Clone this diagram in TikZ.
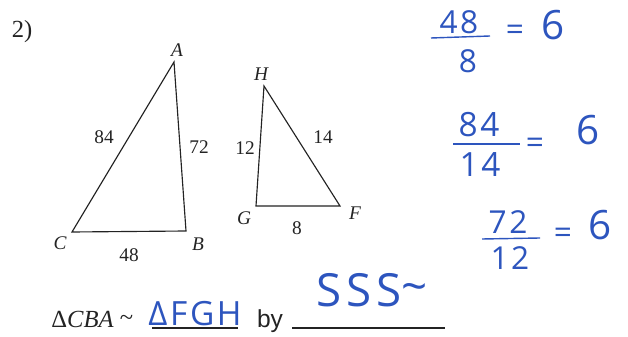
\documentclass[tikz,border=0pt]{standalone}
\usepackage{fontspec}
\setmainfont{Liberation Serif}
\setsansfont{Liberation Sans}
\newfontfamily\handfont{Open Sans}[LetterSpace=8]
\usetikzlibrary{positioning, calc}
\usepackage{xcolor}
\definecolor{ink}{RGB}{35,35,35}
\definecolor{pen}{RGB}{45,85,190}
\tikzset{
  SD/.style={draw=ink,line width=0.65pt},
  VX/.style={font=\fontsize{11}{12}\selectfont\itshape,text=ink,inner sep=1pt},
  LN/.style={font=\fontsize{11}{12}\selectfont,text=ink,inner sep=1pt},
  HW/.style={font=\handfont\fontsize{18}{19}\selectfont,text=pen,inner sep=0pt},
  SIX/.style={font=\handfont\fontsize{23}{25}\selectfont,text=pen,inner sep=0pt},
  BAR/.style={draw=pen,line width=0.8pt},
  UL/.style={draw=ink,line width=0.7pt},
}

\begin{document}
\begin{tikzpicture}[x=0.02cm,y=-0.02cm]
\useasboundingbox (0,0) rectangle (628,337);

% problem number
\node[font=\fontsize{14}{15}\selectfont,text=ink](num) at (22,32){2)};

% triangle CBA
\coordinate (A) at (174,62);
\coordinate (B) at (186,231);
\coordinate (C) at (72,232);
\draw[SD](A)--(B)--(C)--cycle;
\node[VX](lA) at (177,50){A};
\node[VX](lB) at (198,244){B};
\node[VX](lC) at (60,243){C};
\node[LN](sCA) at (104,137){84};
\node[LN](sAB) at (199,147){72};
\node[LN](sCB) at (129,255){48};

% triangle FGH
\coordinate (H) at (264,86);
\coordinate (G) at (256,206);
\coordinate (F) at (340,206);
\draw[SD](H)--(G)--(F)--cycle;
\node[VX](lH) at (261,74){H};
\node[VX](lG) at (244,218){G};
\node[VX](lF) at (355,213){F};
\node[LN](sHG) at (245,148){12};
\node[LN](sHF) at (323,137){14};
\node[LN](sGF) at (297,228){8};

% ratios
\node[HW](n1) at (459,22){48};
\node[HW](d1) at (468,61){8};
\draw[BAR](431,38)--(490,36);
\node[HW](e1) at (515,33){=};
\node[SIX](r1) at (553,25){6};

\node[HW,font=\handfont\fontsize{19}{20}\selectfont](n2) at (479,125){84};
\node[HW,font=\handfont\fontsize{19}{20}\selectfont](d2) at (480,165){14};
\draw[BAR](453,144)--(520,144);
\node[HW](e2) at (535,146){=};
\node[SIX](r2) at (588,130){6};

\node[HW](n3) at (508,222){72};
\node[HW](d3) at (510,258){12};
\draw[BAR](482,239)--(540,238);
\node[HW](e3) at (563,236){=};
\node[SIX](r3) at (600,225){6};

% statement
\node[font=\fontsize{14}{15}\selectfont,text=ink,anchor=base west,inner sep=0pt](stmt) at (51,327){Δ\textit{CBA} \raisebox{1pt}{\textasciitilde}};
\node[HW,font=\handfont\fontsize{19}{21}\selectfont,anchor=base](sim) at (195,325){ΔFGH};
\draw[UL](152,328)--(238,328);
\node[font=\sffamily\fontsize{14}{15}\selectfont,text=ink,anchor=base,inner sep=0pt](by) at (270,327){by};
\draw[UL](292,328)--(445,328);
\node[HW,font=\handfont\fontsize{26}{28}\selectfont\addfontfeature{LetterSpace=10},anchor=base](crit) at (372,306){SSS\raisebox{2pt}{\textasciitilde}};

\end{tikzpicture}
\end{document}
